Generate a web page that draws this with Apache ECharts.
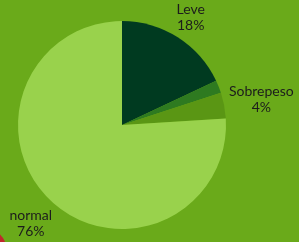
<!DOCTYPE html>
<html>
<head>
<meta charset="utf-8">
<script src="https://cdn.jsdelivr.net/npm/echarts@6/dist/echarts.min.js"></script>
<style>
  html, body { margin: 0; padding: 0; background: #6aaa1a; }
  #main { width: 299px; height: 242px; }
</style>
</head>
<body>
<div id="main"></div>
<script>
// datos del gráfico
const categorias = ['Leve', 'Moderado', 'Sobrepeso', 'normal'];
const valores = [18, 2, 4, 76];
const colores = ['#003a20', '#2e7a20', '#5a9614', '#99d24c'];
const mostrarEtiqueta = [true, false, true, true];

const centro = [122, 125];
const radio = 104;
const total = valores.reduce((a, b) => a + b, 0);

// ángulo medio de cada porción (en grados, sentido horario desde arriba)
function anguloMedio(idx) {
  let acc = 0;
  for (let i = 0; i < idx; i++) acc += valores[i];
  return (acc + valores[idx] / 2) / total * 360;
}

const myChart = echarts.init(document.querySelector('#main'));
myChart.setOption({
  backgroundColor: '#6aaa1a',
  animation: false,
  graphic: [{
    type: 'circle',
    shape: { cx: -12, cy: 248, r: 18 },
    style: { fill: '#c0282d' }
  }],
  series: [{
    type: 'pie',
    center: centro,
    radius: radio,
    startAngle: 90,
    clockwise: true,
    avoidLabelOverlap: false,
    label: {
      show: true,
      position: 'outside',
      formatter: '{b}\n{d}%',
      color: '#1c1c1c',
      fontFamily: 'Lato',
      fontSize: 14,
      lineHeight: 16
    },
    labelLine: { show: false },
    labelLayout: function (params) {
      const a = anguloMedio(params.dataIndex) * Math.PI / 180;
      const dx = Math.sin(a), dy = -Math.cos(a);
      const w = params.labelRect.width, h = params.labelRect.height;
      const proj = w / 2 * Math.abs(dx) + h / 2 * Math.abs(dy);
      const d = radio + 3 + proj;
      return {
        x: centro[0] + d * dx,
        y: centro[1] + d * dy - h / 2 + 1,
        align: 'center',
        verticalAlign: 'top'
      };
    },
    itemStyle: { borderWidth: 0 },
    data: categorias.map((c, i) => ({
      name: c,
      value: valores[i],
      itemStyle: { color: colores[i] },
      label: { show: mostrarEtiqueta[i] }
    }))
  }]
});
</script>
</body>
</html>
